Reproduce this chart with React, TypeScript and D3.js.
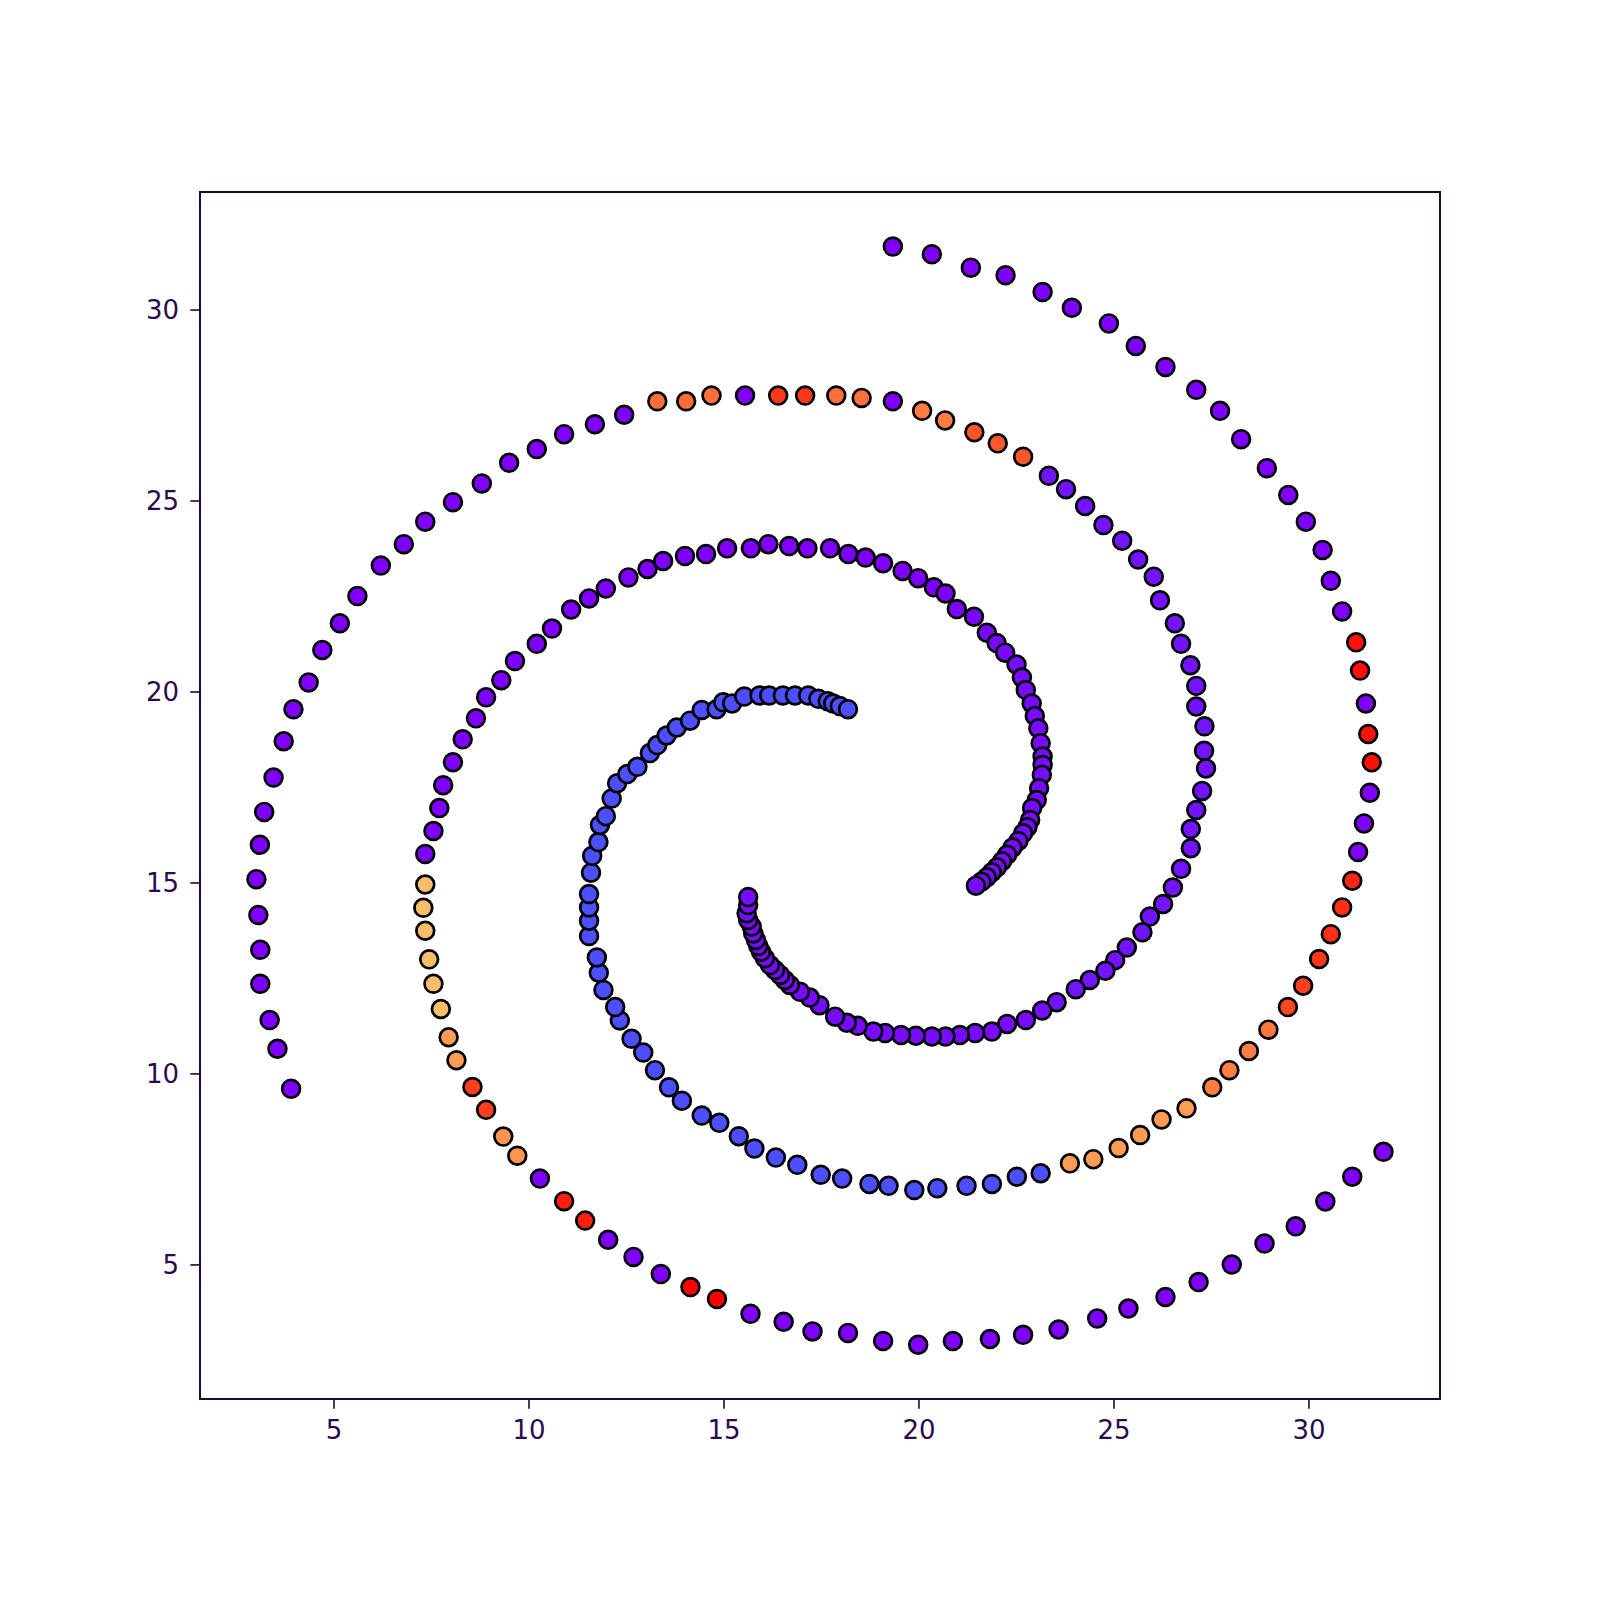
import * as d3 from "d3";

// [x, y, colour value on the rainbow scale], listed from the spiral centre outward
const armA: [number, number, number][] = [
  [15.62, 14.63, 0.015], [15.62, 14.42, 0.015], [15.58, 14.21, 0.015], [15.62, 14.03, 0.015],
  [15.71, 13.86, 0.015], [15.75, 13.68, 0.015], [15.82, 13.51, 0.015], [15.88, 13.35, 0.015],
  [15.95, 13.2, 0.015], [16.05, 13.03, 0.015], [16.18, 12.85, 0.015], [16.31, 12.72, 0.015],
  [16.44, 12.59, 0.015], [16.56, 12.46, 0.015], [16.69, 12.33, 0.015], [16.95, 12.15, 0.015],
  [17.2, 12.0, 0.015], [17.45, 11.8, 0.015], [17.85, 11.5, 0.015], [18.15, 11.34, 0.015],
  [18.43, 11.26, 0.015], [18.83, 11.11, 0.015], [19.13, 11.07, 0.015], [19.54, 11.02, 0.015],
  [19.92, 11.0, 0.015], [20.33, 10.98, 0.015], [20.68, 10.98, 0.015], [21.05, 11.02, 0.015],
  [21.44, 11.07, 0.015], [21.87, 11.11, 0.015], [22.26, 11.31, 0.015], [22.74, 11.41, 0.015],
  [23.16, 11.66, 0.02], [23.53, 11.88, 0.025], [24.02, 12.22, 0.025], [24.38, 12.46, 0.025],
  [24.78, 12.7, 0.025], [25.03, 12.98, 0.025], [25.33, 13.31, 0.025], [25.73, 13.71, 0.025],
  [25.92, 14.12, 0.025], [26.26, 14.45, 0.025], [26.51, 14.88, 0.025], [26.72, 15.37, 0.025],
  [26.97, 15.91, 0.025], [26.97, 16.41, 0.025], [27.11, 16.91, 0.025], [27.26, 17.41, 0.025],
  [27.36, 18.0, 0.025], [27.31, 18.46, 0.025], [27.32, 19.1, 0.025], [27.11, 19.62, 0.025],
  [27.11, 20.16, 0.025], [26.96, 20.7, 0.025], [26.72, 21.26, 0.025], [26.56, 21.8, 0.025],
  [26.18, 22.4, 0.025], [26.02, 23.02, 0.025], [25.62, 23.47, 0.025], [25.21, 23.96, 0.025],
  [24.73, 24.37, 0.025], [24.26, 24.87, 0.025], [23.77, 25.31, 0.025], [23.33, 25.66, 0.025],
  [22.67, 26.16, 0.89], [22.02, 26.51, 0.89], [21.42, 26.8, 0.89], [20.67, 27.11, 0.84],
  [20.08, 27.36, 0.84], [19.33, 27.61, 0], [18.53, 27.7, 0.855], [17.88, 27.76, 0.855],
  [17.08, 27.76, 0.93], [16.39, 27.76, 0.93], [15.54, 27.76, 0], [14.68, 27.76, 0.86],
  [14.03, 27.61, 0.86], [13.29, 27.61, 0.86], [12.44, 27.26, 0], [11.69, 27.01, 0],
  [10.9, 26.75, 0], [10.2, 26.36, 0], [9.49, 26.0, 0], [8.79, 25.46, 0],
  [8.05, 24.97, 0], [7.34, 24.46, 0], [6.79, 23.87, 0], [6.2, 23.31, 0],
  [5.6, 22.51, 0], [5.15, 21.8, 0], [4.7, 21.1, 0], [4.35, 20.25, 0],
  [3.96, 19.55, 0], [3.71, 18.71, 0], [3.45, 17.76, 0], [3.21, 16.86, 0],
  [3.1, 16.0, 0], [3.01, 15.1, 0], [3.06, 14.16, 0], [3.11, 13.25, 0],
  [3.11, 12.36, 0], [3.35, 11.41, 0], [3.55, 10.66, 0], [3.9, 9.61, 0],
];

const armB: [number, number, number][] = [
  [21.46, 14.93, 0.015], [21.6, 15.03, 0.015], [21.74, 15.15, 0.015], [21.87, 15.28, 0.015],
  [22.0, 15.41, 0.015], [22.13, 15.57, 0.015], [22.26, 15.74, 0.015], [22.4, 15.93, 0.015],
  [22.55, 16.1, 0.015], [22.67, 16.3, 0.015], [22.78, 16.46, 0.015], [22.85, 16.65, 0.015],
  [22.9, 16.96, 0.015], [23.02, 17.17, 0.015], [23.08, 17.48, 0.015], [23.15, 17.83, 0.015],
  [23.17, 18.09, 0.015], [23.17, 18.31, 0.015], [23.12, 18.66, 0.015], [23.06, 19.05, 0.015],
  [22.97, 19.37, 0.015], [22.89, 19.7, 0.015], [22.74, 20.05, 0.015], [22.64, 20.38, 0.015],
  [22.5, 20.72, 0.015], [22.21, 21.03, 0.01], [21.99, 21.28, 0.01], [21.74, 21.55, 0.01],
  [21.41, 21.97, 0.01], [20.97, 22.17, 0.01], [20.68, 22.58, 0], [20.38, 22.74, 0],
  [19.98, 22.98, 0], [19.58, 23.17, 0], [19.08, 23.37, 0], [18.63, 23.52, 0],
  [18.19, 23.61, 0], [17.72, 23.76, 0], [17.14, 23.76, 0], [16.67, 23.82, 0],
  [16.14, 23.87, 0], [15.69, 23.76, 0], [15.08, 23.76, 0], [14.54, 23.61, 0],
  [14.0, 23.56, 0], [13.44, 23.43, 0], [13.04, 23.22, 0], [12.55, 23.0, 0],
  [11.97, 22.71, 0], [11.54, 22.45, 0], [11.08, 22.16, 0], [10.59, 21.66, 0],
  [10.2, 21.26, 0], [9.64, 20.81, 0], [9.29, 20.31, 0], [8.9, 19.86, 0],
  [8.64, 19.31, 0], [8.3, 18.76, 0], [8.05, 18.16, 0], [7.8, 17.56, 0],
  [7.7, 16.96, 0], [7.55, 16.36, 0], [7.34, 15.76, 0], [7.34, 14.96, 0.73],
  [7.29, 14.35, 0.73], [7.34, 13.75, 0.73], [7.44, 13.0, 0.73], [7.55, 12.36, 0.73],
  [7.74, 11.7, 0.73], [7.94, 10.96, 0.79], [8.14, 10.36, 0.79], [8.55, 9.66, 0.92],
  [8.9, 9.06, 0.92], [9.34, 8.36, 0.8], [9.7, 7.86, 0.8], [10.28, 7.26, 0],
  [10.9, 6.67, 0.96], [11.44, 6.16, 0.96], [12.03, 5.66, 0], [12.68, 5.21, 0],
  [13.38, 4.76, 0], [14.14, 4.42, 1], [14.82, 4.11, 1], [15.68, 3.72, 0],
  [16.53, 3.51, 0], [17.27, 3.26, 0], [18.18, 3.22, 0], [19.08, 3.01, 0],
  [19.98, 2.91, 0], [20.87, 3.01, 0], [21.82, 3.06, 0], [22.67, 3.17, 0],
  [23.58, 3.31, 0], [24.57, 3.6, 0], [25.37, 3.86, 0], [26.32, 4.16, 0],
  [27.17, 4.55, 0], [28.02, 5.01, 0], [28.86, 5.56, 0], [29.66, 6.01, 0],
  [30.42, 6.66, 0], [31.11, 7.31, 0], [31.91, 7.96, 0],
];

const armC: [number, number, number][] = [
  [18.18, 19.55, 0.1], [17.97, 19.63, 0.1], [17.8, 19.7, 0.1], [17.66, 19.76, 0.1],
  [17.42, 19.82, 0.1], [17.16, 19.91, 0.1], [16.82, 19.91, 0.1], [16.51, 19.91, 0.1],
  [16.16, 19.91, 0.1], [15.91, 19.91, 0.1], [15.52, 19.88, 0.1], [15.21, 19.7, 0.1],
  [14.98, 19.73, 0.1], [14.81, 19.55, 0.1], [14.43, 19.53, 0.1], [14.13, 19.25, 0.1],
  [13.79, 19.07, 0.1], [13.53, 18.86, 0.1], [13.29, 18.61, 0.1], [13.1, 18.4, 0.1],
  [12.78, 18.04, 0.1], [12.52, 17.85, 0.1], [12.26, 17.61, 0.1], [12.12, 17.21, 0.1],
  [11.97, 16.75, 0.1], [11.82, 16.52, 0.1], [11.78, 16.07, 0.1], [11.62, 15.71, 0.1],
  [11.59, 15.27, 0.1], [11.54, 14.71, 0.1], [11.54, 14.36, 0.1], [11.54, 14.01, 0.1],
  [11.54, 13.61, 0.1], [11.74, 13.05, 0.1], [11.79, 12.65, 0.1], [11.91, 12.2, 0.1],
  [12.21, 11.75, 0.1], [12.33, 11.4, 0.1], [12.63, 10.92, 0.1], [12.93, 10.56, 0.1],
  [13.23, 10.1, 0.1], [13.59, 9.65, 0.1], [13.92, 9.3, 0.1], [14.43, 8.91, 0.1],
  [14.88, 8.72, 0.1], [15.38, 8.37, 0.1], [15.78, 8.05, 0.1], [16.33, 7.81, 0.1],
  [16.88, 7.62, 0.1], [17.48, 7.36, 0.1], [18.03, 7.26, 0.1], [18.73, 7.12, 0.1],
  [19.22, 7.07, 0.1], [19.88, 6.96, 0.1], [20.47, 7.01, 0.1], [21.22, 7.07, 0.1],
  [21.87, 7.12, 0.1], [22.51, 7.31, 0.1], [23.12, 7.4, 0.1], [23.87, 7.66, 0.79],
  [24.47, 7.77, 0.79], [25.12, 8.06, 0.79], [25.67, 8.4, 0.79], [26.22, 8.81, 0.79],
  [26.86, 9.1, 0.79], [27.52, 9.65, 0.835], [27.96, 10.1, 0.835], [28.46, 10.6, 0.835],
  [28.96, 11.16, 0.845], [29.46, 11.75, 0.91], [29.85, 12.31, 0.92], [30.26, 13.01, 0.93],
  [30.56, 13.66, 0.94], [30.85, 14.36, 0.94], [31.11, 15.06, 0.95], [31.26, 15.81, 0],
  [31.41, 16.56, 0], [31.56, 17.36, 0], [31.61, 18.16, 0.98], [31.52, 18.9, 0.98],
  [31.46, 19.7, 0], [31.31, 20.56, 0.98], [31.21, 21.3, 0.98], [30.85, 22.11, 0],
  [30.56, 22.91, 0], [30.35, 23.72, 0], [29.92, 24.46, 0], [29.47, 25.16, 0],
  [28.92, 25.86, 0], [28.26, 26.62, 0], [27.72, 27.36, 0], [27.11, 27.91, 0],
  [26.32, 28.51, 0], [25.56, 29.06, 0], [24.87, 29.65, 0], [23.92, 30.06, 0],
  [23.17, 30.47, 0], [22.22, 30.91, 0], [21.33, 31.11, 0], [20.33, 31.46, 0],
  [19.33, 31.66, 0],
];

const xTicks = [5, 10, 15, 20, 25, 30];
const yTicks = [5, 10, 15, 20, 25, 30];

const W = 1600;
const H = 1600;
const left = 200;
const right = 1440;
const top = 192;
const bottom = 1399;

const axisColor = "#1e0836";
const textColor = "#2a0b4e";

// matplotlib "rainbow" colormap
function rainbow(t: number) {
  const c = (v: number) => Math.round(Math.max(0, Math.min(1, v)) * 255);
  const r = Math.abs(2 * t - 0.5);
  const g = Math.sin(Math.PI * t);
  const b = Math.cos((Math.PI / 2) * t);
  return `rgb(${c(r)},${c(g)},${c(b)})`;
}

export default function App() {
  const x = d3.scaleLinear().domain([1.564, 33.36]).range([left, right]);
  const y = d3.scaleLinear().domain([1.49, 33.09]).range([bottom, top]);

  // outer points first so the spiral centres sit on top
  const points = [armA, armB, armC].flatMap((arm) => arm.slice().reverse());

  return (
    <svg
      width={W}
      height={H}
      style={{ position: "absolute", left: 0, top: 0, background: "white" }}
      fontFamily="DejaVu Sans"
    >
      <rect x={0} y={0} width={W} height={H} fill="white" />
      <g>
        {points.map((d, i) => (
          <circle
            key={i}
            cx={x(d[0])}
            cy={y(d[1])}
            r={8.9}
            fill={rainbow(d[2])}
            stroke="black"
            strokeWidth={2.7}
          />
        ))}
      </g>
      <rect
        x={left}
        y={top}
        width={right - left}
        height={bottom - top}
        fill="none"
        stroke={axisColor}
        strokeWidth={2}
      />
      {xTicks.map((t) => (
        <g key={"x" + t} transform={`translate(${x(t)},${bottom})`}>
          <line y1={0} y2={9.7} stroke={axisColor} strokeWidth={1.6} />
          <text y={40} textAnchor="middle" fontSize={26} fill={textColor}>
            {t}
          </text>
        </g>
      ))}
      {yTicks.map((t) => (
        <g key={"y" + t} transform={`translate(${left},${y(t)})`}>
          <line x1={0} x2={-9.7} stroke={axisColor} strokeWidth={1.6} />
          <text x={-21} y={9.3} textAnchor="end" fontSize={26} fill={textColor}>
            {t}
          </text>
        </g>
      ))}
    </svg>
  );
}
